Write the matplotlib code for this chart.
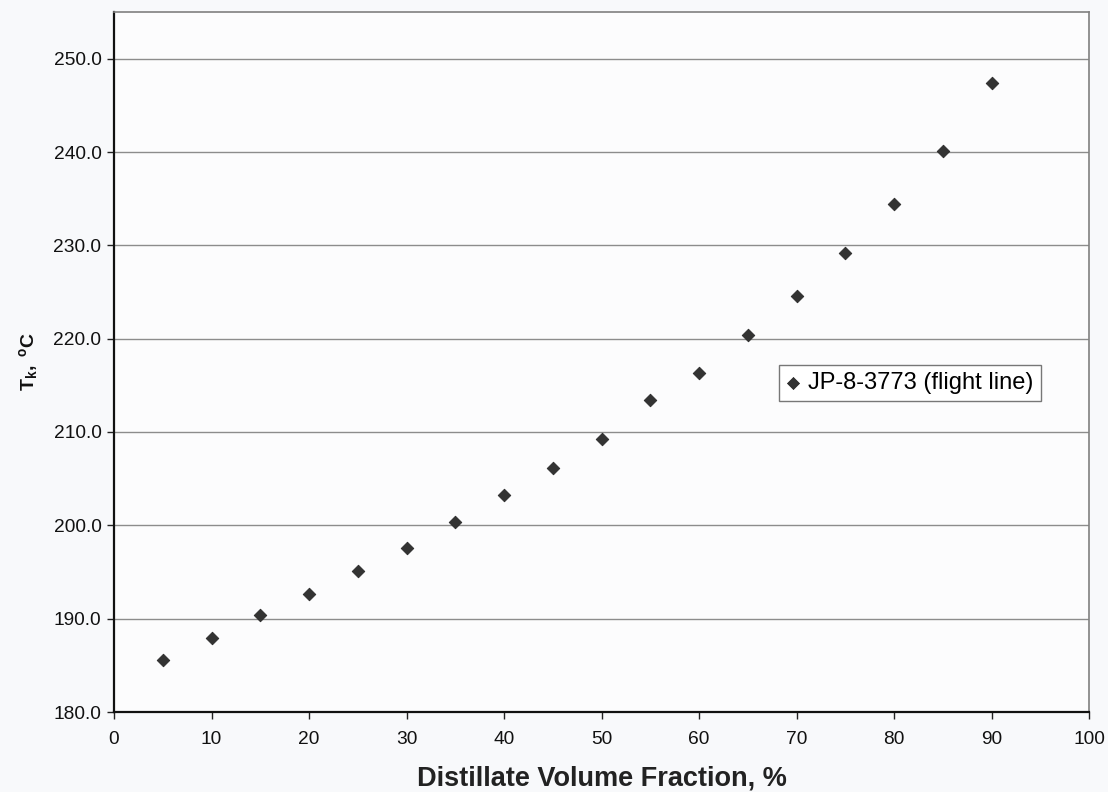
import matplotlib
matplotlib.use("Agg")
import matplotlib.pyplot as plt
from matplotlib.ticker import FormatStrFormatter, MultipleLocator

plt.rcParams['font.family'] = ['Liberation Sans', 'DejaVu Sans']
plt.rcParams['mathtext.fontset'] = 'custom'
plt.rcParams['mathtext.rm'] = 'Liberation Sans'
plt.rcParams['mathtext.bf'] = 'Liberation Sans:bold'
plt.rcParams['mathtext.it'] = 'Liberation Sans:italic'

# Data
volume_fraction = [5, 10, 15, 20, 25, 30, 35, 40, 45, 50, 55, 60, 65, 70, 75, 80, 85, 90]
temperature = [185.6, 187.9, 190.35, 192.65, 195.1, 197.6, 200.35, 203.2, 206.1, 209.2,
               213.4, 216.3, 220.4, 224.6, 229.2, 234.4, 240.1, 247.4]
series_label = "JP-8-3773 (flight line)"
x_label = "Distillate Volume Fraction, %"

fig = plt.figure(figsize=(11.08, 7.92), dpi=100, facecolor='#f8f9fb')
ax = fig.add_axes([114/1108, 1 - 712/792, (1089 - 114)/1108, (712 - 12)/792])
ax.set_facecolor('#fcfcfd')

ax.scatter(volume_fraction, temperature, marker='D', s=42, color='#333333',
           edgecolors='#222222', linewidths=0.5, zorder=3, label=series_label)

ax.set_xlim(0, 100)
ax.set_ylim(180, 255)
ax.xaxis.set_major_locator(MultipleLocator(10))
ax.set_yticks([180, 190, 200, 210, 220, 230, 240, 250])
ax.yaxis.set_major_formatter(FormatStrFormatter('%.1f'))

ax.grid(axis='y', color='#8c8c8c', linewidth=1.0)
ax.set_axisbelow(True)

for side in ['left', 'bottom']:
    ax.spines[side].set_color('#111111')
    ax.spines[side].set_linewidth(1.6)
for side in ['top', 'right']:
    ax.spines[side].set_color('#808080')
    ax.spines[side].set_linewidth(1.2)

ax.tick_params(axis='both', direction='out', length=5, width=1, color='#222222',
               labelsize=13.8, labelcolor='#111111')
ax.tick_params(axis='x', pad=9)
ax.tick_params(axis='y', pad=4)

ax.set_xlabel(x_label, fontsize=19.5, fontweight='bold', color='#222222', labelpad=12)
ax.set_ylabel(r'$\mathbf{T_{k},\ {}^{o}C}$', fontsize=14, color='#111111', labelpad=10)

leg = ax.legend(loc='center', bbox_to_anchor=(0.821, 0.516), bbox_transform=fig.transFigure,
                fontsize=17, frameon=True, fancybox=False, handlelength=0.6,
                handletextpad=0.35, borderpad=0.3, markerscale=0.95)
leg.get_frame().set_edgecolor('#777777')
leg.get_frame().set_linewidth(1.0)
leg.get_frame().set_facecolor('white')
leg.get_frame().set_alpha(1.0)

fig.savefig('out.png', dpi=100, facecolor=fig.get_facecolor())
